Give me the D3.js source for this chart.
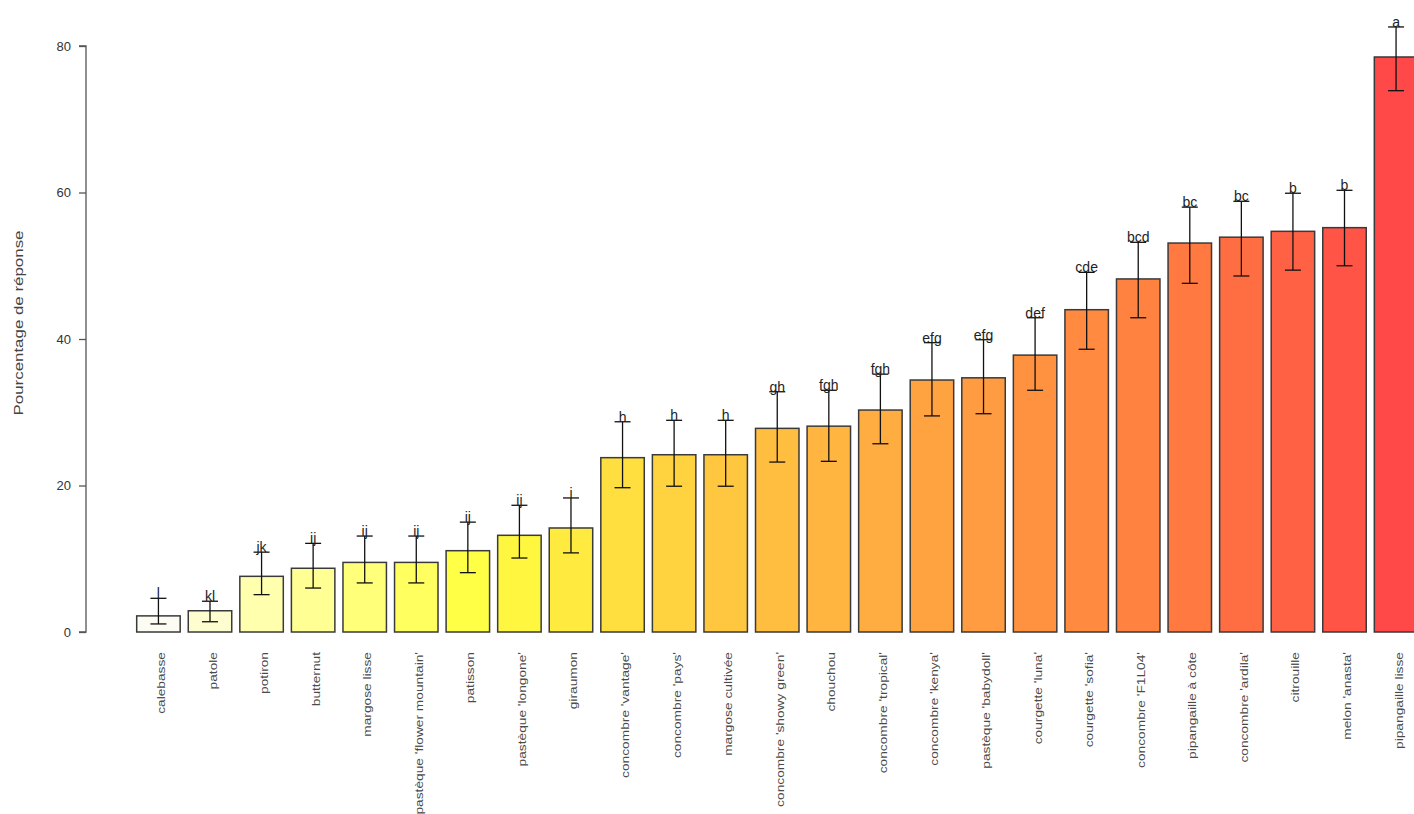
<!DOCTYPE html>
<html>
<head>
<meta charset="utf-8">
<script src="https://cdn.jsdelivr.net/npm/d3@7"></script>
<style>
  html, body { margin: 0; padding: 0; background: #ffffff; }
  svg { display: block; font-family: "Liberation Sans", Arial, Helvetica, sans-serif; }
</style>
</head>
<body>
<svg id="chart" width="1414" height="814"></svg>
<script>
const categories = [
  "calebasse", "patole", "potiron", "butternut", "margose lisse",
  "pastèque 'flower mountain'", "patisson", "pastèque 'longone'", "giraumon",
  "concombre 'vantage'", "concombre 'pays'", "margose cultivée",
  "concombre 'showy green'", "chouchou", "concombre 'tropical'",
  "concombre 'kenya'", "pastèque 'babydoll'", "courgette 'luna'",
  "courgette 'sofia'", "concombre 'F1L04'", "pipangaille à côte",
  "concombre 'ardila'", "citrouille", "melon 'anasta'", "pipangaille lisse"
];
const values = [2.2, 2.9, 7.6, 8.7, 9.5, 9.5, 11.1, 13.2, 14.2, 23.8, 24.2, 24.2, 27.8, 28.1, 30.3, 34.4, 34.7, 37.8, 44.0, 48.2, 53.1, 53.9, 54.7, 55.2, 78.5];
const lowerCI = [1.1, 1.4, 5.1, 6.0, 6.7, 6.7, 8.1, 10.1, 10.8, 19.7, 19.9, 19.9, 23.2, 23.3, 25.7, 29.5, 29.8, 33.0, 38.6, 42.9, 47.6, 48.6, 49.4, 50.0, 73.9];
const upperCI = [4.6, 4.2, 10.9, 12.1, 13.1, 13.1, 15.0, 17.3, 18.3, 28.7, 28.9, 28.9, 32.8, 33.0, 35.2, 39.5, 39.9, 42.9, 49.1, 53.2, 58.0, 58.8, 59.9, 60.3, 82.6];
const groupLetters = ["l", "kl", "jk", "ij", "ij", "ij", "ij", "ij", "i", "h", "h", "h", "gh", "fgh", "fgh", "efg", "efg", "def", "cde", "bcd", "bc", "bc", "b", "b", "a"];
const yTicks = [0, 20, 40, 60, 80];
const yTitle = "Pourcentage de réponse";

const svg = d3.select("#chart");
svg.append("rect").attr("width", 1414).attr("height", 814).attr("fill", "#fff");

const x = d3.scaleBand().domain(categories).range([128.6, 1425.9]).padding(0.157);
const y = d3.scaleLinear().domain([0, 80]).range([632, 46]);

const colorStops = ["#fcfcf2", "#ffffa8", "#ffff40", "#ffc840", "#ff9840", "#ff7840", "#ff4848"];
const colorPos = [0, 0.09, 0.26, 0.45, 0.68, 0.84, 1];
const color = d3.scaleLinear().domain(colorPos).range(colorStops).interpolate(d3.interpolateRgb);

const data = categories.map((c, i) => ({c, v: values[i], lo: lowerCI[i], hi: upperCI[i], g: groupLetters[i], i}));

// bars
svg.append("g").selectAll("rect").data(data).join("rect")
  .attr("x", d => x(d.c))
  .attr("y", d => y(d.v))
  .attr("width", x.bandwidth())
  .attr("height", d => y(0) - y(d.v))
  .attr("fill", d => color(d.i / (categories.length - 1)))
  .attr("stroke", "#3a3a3a")
  .attr("stroke-width", 1.5);

// error bars
const eb = svg.append("g").attr("stroke", "#111").attr("stroke-width", 1.3);
data.forEach(d => {
  const cx = x(d.c) + x.bandwidth() / 2;
  eb.append("line").attr("x1", cx).attr("x2", cx).attr("y1", y(d.lo)).attr("y2", y(d.hi));
  eb.append("line").attr("x1", cx - 8).attr("x2", cx + 8).attr("y1", y(d.lo)).attr("y2", y(d.lo));
  eb.append("line").attr("x1", cx - 8).attr("x2", cx + 8).attr("y1", y(d.hi)).attr("y2", y(d.hi));
});

// letters
svg.append("g").selectAll("text").data(data).join("text")
  .attr("x", d => x(d.c) + x.bandwidth() / 2)
  .attr("y", d => y(d.hi))
  .attr("text-anchor", "middle")
  .attr("font-size", 14)
  .attr("fill", "#222")
  .text(d => d.g);

// y axis
const yAxis = d3.axisLeft(y).tickValues(yTicks).tickSize(7).tickPadding(8);
const ga = svg.append("g").attr("transform", "translate(86,0)").call(yAxis);
ga.select(".domain").attr("stroke", "#555").attr("stroke-width", 1.3).attr("d", `M-7,${y(80)}H0V${y(0)}H-7`);
ga.selectAll(".tick line").attr("stroke", "#555").attr("stroke-width", 1.3);
ga.selectAll(".tick text").attr("font-size", 13).attr("fill", "#333")
  .attr("font-family", "Liberation Sans, Arial, sans-serif");

// y title (stretched along its length like the reference)
svg.append("text")
  .attr("transform", `translate(23,323) rotate(-90) scale(1.3,1)`)
  .attr("text-anchor", "middle")
  .attr("font-size", 13)
  .attr("fill", "#444")
  .text(yTitle);

// x labels
svg.append("g").selectAll("text").data(data).join("text")
  .attr("transform", d => `translate(${x(d.c) + x.bandwidth() / 2 + 6.5},652) rotate(-90) scale(1.25,1)`)
  .attr("text-anchor", "end")
  .attr("font-size", 11)
  .attr("fill", "#4a4a4a")
  .text(d => d.c);
</script>
</body>
</html>
